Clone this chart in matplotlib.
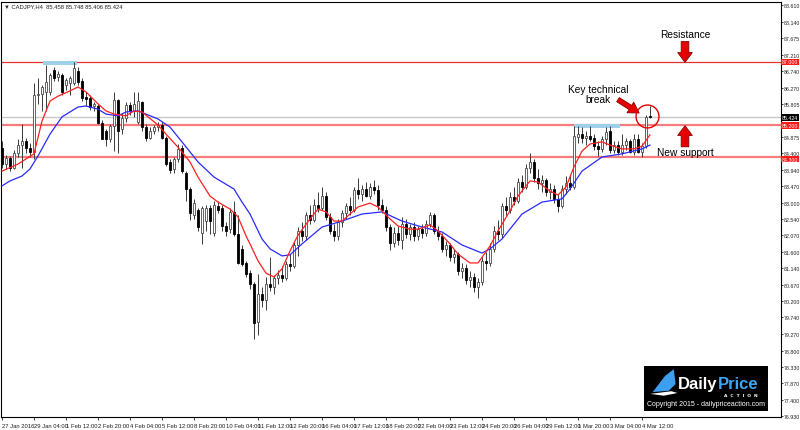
import matplotlib
matplotlib.use('Agg')
import matplotlib.pyplot as plt
import matplotlib.transforms as mtransforms
import numpy as np
from matplotlib.patches import Rectangle, Polygon

# CADJPY H4 candles (27 Jan 2016 20:00 .. 4 Mar 2016 20:00)
opens = [84.55, 84.10, 84.28, 84.00, 84.40, 84.65, 84.75, 84.55, 84.45, 86.05,
         86.10, 86.15, 86.15, 86.77, 86.57, 86.62, 86.34, 86.40, 86.40, 86.75,
         86.45, 86.00, 85.97, 85.75, 85.75, 85.28, 85.05, 84.82, 85.19, 85.91,
         85.10, 85.40, 85.78, 85.60, 85.30, 85.85, 85.15, 84.85, 85.05, 85.15,
         85.20, 84.85, 84.15, 83.95, 84.25, 84.55, 83.85, 83.40, 82.65, 82.80,
         82.15, 82.48, 82.85, 82.15, 82.90, 82.85, 82.35, 82.25, 82.75, 82.10,
         81.70, 81.28, 81.00, 80.68, 79.60, 80.40, 80.25, 80.70, 80.60, 80.85,
         80.95, 80.85, 81.25, 81.20, 81.80, 82.20, 82.05, 82.65, 82.50, 82.95,
         82.85, 83.20, 82.60, 82.20, 82.05, 82.45, 82.70, 82.90, 82.80, 83.35,
         83.25, 83.40, 83.20, 83.45, 83.35, 82.95, 82.80, 82.30, 81.85, 82.15,
         81.95, 82.40, 82.10, 82.30, 82.05, 82.25, 82.15, 82.40, 82.65, 82.20,
         82.05, 81.70, 81.80, 81.45, 81.55, 81.05, 81.15, 80.80, 80.90, 80.60,
         80.75, 81.35, 81.30, 81.70, 82.20, 82.10, 82.90, 82.80, 83.15, 83.05,
         83.60, 83.45, 84.00, 84.15, 83.70, 83.55, 83.65, 83.30, 83.40, 83.10,
         82.90, 83.40, 83.55, 83.45, 84.88, 84.95, 84.85, 84.90, 84.85, 84.62,
         84.52, 84.80, 85.05, 84.50, 84.65, 84.45, 84.65, 84.75, 84.45, 84.80,
         84.45, 84.60, 85.458]
highs = [84.75, 84.35, 84.32, 84.50, 84.80, 85.25, 84.85, 84.70, 86.40, 86.55,
         86.35, 86.91, 86.70, 86.85, 86.75, 86.70, 86.55, 86.60, 87.00, 86.85,
         86.55, 86.15, 86.05, 85.85, 85.80, 85.35, 85.10, 85.25, 86.14, 85.95,
         85.55, 85.85, 85.85, 86.14, 86.14, 85.90, 85.25, 85.15, 85.20, 85.30,
         85.30, 84.90, 84.25, 84.30, 84.68, 84.65, 83.90, 83.45, 83.10, 82.85,
         82.90, 82.95, 82.95, 83.05, 83.05, 82.95, 82.45, 82.85, 83.05, 82.65,
         81.80, 81.35, 81.10, 80.75, 80.97, 80.60, 80.90, 81.45, 80.95, 81.10,
         81.20, 81.35, 81.55, 81.90, 82.30, 82.45, 82.75, 82.95, 83.10, 83.30,
         83.45, 83.30, 82.70, 82.40, 82.55, 82.80, 83.00, 83.15, 83.45, 83.70,
         83.50, 83.60, 83.55, 83.65, 83.50, 83.10, 82.90, 82.40, 82.30, 82.35,
         82.60, 82.55, 82.40, 82.45, 82.35, 82.40, 82.50, 82.75, 82.70, 82.35,
         82.15, 81.90, 81.85, 81.70, 81.60, 81.30, 81.25, 81.05, 81.00, 80.85,
         81.45, 81.60, 81.85, 82.35, 82.50, 83.00, 83.15, 83.30, 83.45, 83.70,
         83.80, 84.10, 84.40, 84.25, 83.95, 83.80, 83.70, 83.55, 83.50, 83.25,
         83.50, 83.75, 83.80, 85.18, 85.18, 85.15, 85.05, 85.18, 84.95, 84.75,
         84.90, 85.15, 85.18, 84.75, 84.75, 84.95, 84.85, 84.80, 84.95, 84.95,
         84.70, 85.50, 85.748]
lows = [84.00, 83.95, 83.90, 83.95, 84.30, 84.00, 84.40, 84.30, 84.25, 85.80,
        85.62, 85.60, 86.05, 86.45, 86.45, 86.05, 86.20, 86.05, 86.35, 86.35,
        85.90, 85.75, 85.65, 85.60, 85.25, 84.80, 84.62, 84.72, 84.48, 84.42,
        84.95, 85.30, 85.50, 85.45, 85.25, 85.05, 84.75, 84.80, 84.95, 85.05,
        84.80, 84.05, 83.85, 83.85, 84.15, 83.85, 83.05, 82.50, 82.55, 82.20,
        81.82, 82.20, 82.11, 82.05, 82.70, 82.20, 82.05, 82.15, 82.05, 81.25,
        81.20, 80.90, 80.54, 79.14, 79.25, 80.05, 79.95, 80.50, 80.40, 80.70,
        80.75, 80.80, 81.05, 81.15, 81.50, 81.90, 81.95, 82.40, 82.45, 82.75,
        82.80, 82.50, 82.10, 81.90, 81.95, 82.30, 82.55, 82.65, 82.75, 83.10,
        83.05, 83.15, 83.10, 83.25, 82.80, 82.70, 82.20, 81.65, 81.75, 81.80,
        81.70, 82.00, 81.95, 81.90, 81.95, 82.00, 82.05, 82.30, 82.10, 81.95,
        81.60, 81.50, 81.35, 81.30, 80.95, 80.85, 80.70, 80.60, 80.45, 80.30,
        80.65, 81.10, 81.20, 81.60, 81.95, 82.00, 82.65, 82.70, 82.95, 83.00,
        83.30, 83.40, 83.85, 83.60, 83.40, 83.30, 83.20, 83.10, 83.00, 82.75,
        82.85, 83.25, 83.35, 83.40, 84.70, 84.70, 84.65, 84.75, 84.50, 84.33,
        84.45, 84.65, 84.40, 84.40, 84.35, 84.35, 84.50, 84.40, 84.35, 84.40,
        84.30, 84.55, 85.406]
closes = [84.10, 84.28, 84.00, 84.40, 84.65, 84.75, 84.55, 84.45, 86.05, 86.10,
          86.28, 86.42, 86.62, 86.54, 86.66, 86.14, 86.48, 86.55, 86.82, 86.42,
          85.97, 85.95, 85.71, 85.80, 85.28, 84.82, 84.82, 85.19, 85.91, 85.05,
          85.40, 85.78, 85.60, 85.80, 85.90, 85.15, 84.85, 85.05, 85.15, 85.22,
          84.85, 84.11, 83.92, 84.25, 84.54, 83.91, 83.40, 82.70, 83.00, 82.30,
          82.85, 82.85, 82.48, 82.95, 82.80, 82.34, 82.20, 82.75, 82.10, 81.30,
          81.25, 80.97, 80.68, 79.57, 80.40, 80.25, 80.70, 80.60, 80.85, 80.95,
          80.85, 81.25, 81.20, 81.80, 82.20, 82.05, 82.65, 82.50, 82.95, 82.85,
          83.20, 82.60, 82.20, 82.05, 82.45, 82.70, 82.90, 82.80, 83.35, 83.25,
          83.40, 83.20, 83.45, 83.35, 82.95, 82.80, 82.30, 81.85, 82.15, 81.95,
          82.40, 82.10, 82.30, 82.05, 82.25, 82.15, 82.40, 82.65, 82.20, 82.05,
          81.70, 81.80, 81.45, 81.55, 81.05, 81.15, 80.80, 80.90, 80.60, 80.75,
          81.35, 81.30, 81.70, 82.20, 82.10, 82.90, 82.80, 83.15, 83.05, 83.60,
          83.45, 84.00, 84.15, 83.70, 83.55, 83.65, 83.30, 83.40, 83.10, 82.90,
          83.40, 83.55, 83.45, 84.90, 84.95, 84.85, 84.90, 84.82, 84.62, 84.52,
          84.80, 85.00, 84.50, 84.65, 84.45, 84.65, 84.75, 84.45, 84.80, 84.45,
          84.60, 85.45, 85.424]
opens[143] = 83.45  # big breakout candle opens at previous close

# moving averages sampled along the chart (bar index, price)
fast_ma_idx = [0, 4, 8, 10, 12, 14, 17, 19, 21, 24, 26, 28, 31, 33, 35, 39, 41, 44,
               47, 49, 52, 54, 57, 59, 61, 62, 64, 66, 68, 70, 72, 74, 77, 79, 81,
               83, 85, 87, 89, 92, 94, 97, 99, 102, 104, 107, 109, 112, 114, 117,
               119, 122, 124, 127, 129, 132, 134, 137, 139, 141, 143, 145, 147,
               150, 152, 155, 158, 160, 162]
fast_ma = [83.90, 84.10, 84.39, 85.32, 85.89, 86.03, 86.18, 86.29, 86.15, 85.81,
           85.61, 85.52, 85.47, 85.61, 85.58, 85.21, 84.95, 84.58, 84.16, 83.73,
           83.19, 83.02, 82.82, 82.60, 82.06, 81.83, 81.35, 81.00, 80.89, 81.12,
           81.63, 82.08, 82.54, 82.82, 82.74, 82.48, 82.48, 82.68, 82.88, 82.99,
           82.88, 82.54, 82.34, 82.25, 82.25, 82.37, 82.20, 81.83, 81.54, 81.29,
           81.29, 81.77, 82.20, 82.77, 83.19, 83.62, 83.59, 83.33, 83.22, 83.45,
           84.02, 84.47, 84.67, 84.73, 84.64, 84.53, 84.53, 84.61, 84.93]
slow_ma_idx = [0, 2, 5, 7, 9, 12, 15, 19, 21, 24, 26, 29, 31, 34, 36, 39, 42, 45,
               49, 53, 58, 60, 62, 65, 67, 70, 72, 75, 80, 85, 90, 95, 100, 105,
               110, 115, 120, 122, 125, 130, 135, 140, 142, 145, 150, 155, 160, 162]
slow_ma = [83.48, 83.62, 83.76, 83.96, 84.33, 84.95, 85.44, 85.72, 85.75, 85.66,
           85.52, 85.47, 85.58, 85.61, 85.52, 85.38, 85.15, 84.73, 84.16, 83.73,
           83.39, 83.02, 82.68, 81.97, 81.69, 81.49, 81.52, 81.83, 82.31, 82.48,
           82.68, 82.74, 82.48, 82.31, 82.17, 81.80, 81.57, 81.69, 81.97, 82.68,
           83.02, 83.11, 83.39, 83.90, 84.30, 84.39, 84.53, 84.64]

levels = [87.000, 85.200, 84.300]
last_price = 85.424
price_ticks = [88.610, 88.140, 87.675, 87.210, 86.740, 86.270, 85.805, 84.875,
               84.400, 83.940, 83.470, 83.000, 82.540, 82.070, 81.600, 81.140,
               80.670, 80.200, 79.740, 79.270, 78.800, 78.330, 77.870, 77.400,
               76.930]
date_labels = ['27 Jan 2016', '29 Jan 04:00', '1 Feb 12:00', '2 Feb 20:00',
               '4 Feb 04:00', '5 Feb 12:00', '8 Feb 20:00', '10 Feb 04:00',
               '11 Feb 12:00', '12 Feb 20:00', '16 Feb 04:00', '17 Feb 12:00',
               '18 Feb 20:00', '22 Feb 04:00', '23 Feb 12:00', '24 Feb 20:00',
               '26 Feb 04:00', '29 Feb 12:00', '1 Mar 20:00', '3 Mar 04:00',
               '4 Mar 12:00']

small = ['Liberation Sans Narrow', 'Liberation Sans', 'DejaVu Sans']

W, H = 800, 431
fig = plt.figure(figsize=(W / 100, H / 100), dpi=100)
ax = fig.add_axes([1 / W, 13 / H, 780 / W, 415 / H])

o = np.array(opens)
h = np.array(highs)
l = np.array(lows)
c = np.array(closes)
idx = np.arange(len(c))
up = c >= o

# horizontal levels
ax.axhline(last_price, color='#c8c8c8', lw=1.0, zorder=1)
ax.axhline(levels[0], color='#e83030', lw=0.9, zorder=1)
for lv in levels[1:]:
    ax.axhline(lv, color='#f47c7c', lw=1.6, zorder=1)

# highlighted tops
ax.add_patch(Rectangle((10.3, 86.92), 8.5, 0.12, fc='#9fd0ea', ec='none', zorder=1.5))
ax.add_patch(Rectangle((143.0, 85.13), 11.5, 0.11, fc='#9fd0ea', ec='none', zorder=1.5))

# candles
ax.vlines(idx, l, h, color='#3a3a3a', lw=0.7, zorder=2)
body_lo = np.minimum(o, c)
body_h = np.maximum(np.abs(c - o), 0.02)
ax.bar(idx[up], body_h[up], 0.62, bottom=body_lo[up], color='white',
       edgecolor='#4a4a4a', lw=0.6, zorder=3)
ax.bar(idx[~up], body_h[~up], 0.62, bottom=body_lo[~up], color='black',
       edgecolor='black', lw=0.6, zorder=3)

# moving averages
ax.plot(slow_ma_idx, slow_ma, color='#2a2aff', lw=0.9, zorder=4)
ax.plot(fast_ma_idx, fast_ma, color='#ff2020', lw=0.9, zorder=4)

ax.set_xlim(-0.25, 194.75)
ax.set_ylim(76.912, 88.705)

# axes styling
for sp in ax.spines.values():
    sp.set_color('black')
    sp.set_linewidth(0.8)
ax.yaxis.tick_right()
ax.set_yticks(price_ticks)
ax.set_yticklabels(['%.3f' % v for v in price_ticks], family=small)
ax.tick_params(axis='y', labelsize=3.8, length=1.5, pad=0.8, width=0.6, colors='#202020')
ax.set_xticks(np.arange(0, 161, 8))
ax.set_xticklabels(date_labels, ha='left', family=small)
ax.tick_params(axis='x', labelsize=4.2, length=2, pad=2, width=0.6, colors='#202020')

# price markers on the axis
ytr = ax.get_yaxis_transform()
for lv in levels:
    tr = ytr
    if lv == levels[2]:
        # keep the 84.400 scale label readable just above the marker
        tr = ytr + mtransforms.ScaledTranslation(0, -1.5 / 72, fig.dpi_scale_trans)
    ax.text(1.0015, lv, '%.3f' % lv, transform=tr, fontsize=3.8, color='white',
            va='center', ha='left', family=small,
            bbox=dict(boxstyle='square,pad=0.15', fc='#ff1a1a', ec='none'))
ax.text(1.0015, last_price, '%.3f' % last_price, transform=ytr, fontsize=3.8,
        color='white', va='center', ha='left', family=small,
        bbox=dict(boxstyle='square,pad=0.2', fc='black', ec='none'))

fig.text(4 / W, 1 - 7 / H, '\u25bc CADJPY,H4  85.458 85.748 85.406 85.424',
         fontsize=4.2, va='center', ha='left', color='#202020', family=small)

# annotations
fnt = dict(family='Liberation Sans', fontsize=7.3, color='black')
ax.text(170.75, 87.80, 'Resistance', ha='center', va='center', **fnt)
ax.text(170.75, 84.44, 'New support', ha='center', va='center', **fnt)
ax.text(149.0, 86.09, 'Key technical\nbreak', ha='center', va='center',
        linespacing=1.05, **fnt)

big_arrow = dict(arrowstyle='simple,head_length=0.7,head_width=1.05,tail_width=0.55',
                 fc='#e60000', ec='#8a0000', lw=0.6, mutation_scale=10,
                 shrinkA=0, shrinkB=0)
ax.annotate('', xy=(170.75, 86.99), xytext=(170.75, 87.58), arrowprops=big_arrow)
ax.annotate('', xy=(170.75, 85.19), xytext=(170.75, 84.59), arrowprops=big_arrow)
diag_arrow = dict(arrowstyle='simple,head_length=0.75,head_width=0.9,tail_width=0.35',
                  fc='#e60000', ec='#8a0000', lw=0.6, mutation_scale=10,
                  shrinkA=0, shrinkB=0)
ax.annotate('', xy=(159.3, 85.55), xytext=(154.0, 85.93), arrowprops=diag_arrow)
ax.plot([161.2], [85.46], marker='o', ms=16.5, mfc='none', mec='#e00000', mew=1.0,
        zorder=5)

# logo block
lax = fig.add_axes([644 / W, (H - 412) / H, 124 / W, 45 / H])
lax.set_xlim(0, 1)
lax.set_ylim(0, 1)
lax.set_facecolor('black')
for sp in lax.spines.values():
    sp.set_visible(False)
lax.set_xticks([])
lax.set_yticks([])
lax.add_patch(Polygon([[0.07, 0.42], [0.17, 0.78], [0.24, 0.93], [0.255, 0.6],
                       [0.2, 0.45]], closed=True, fc='#3d9ef0', ec='none'))
lax.add_patch(Polygon([[0.05, 0.38], [0.22, 0.44], [0.27, 0.4], [0.16, 0.34]],
                      closed=True, fc='white', ec='none'))
lax.text(0.595, 0.6, 'Daily', color='white', fontsize=12, fontweight='bold',
         family='Liberation Sans', ha='right', va='center')
lax.text(0.595, 0.6, 'Price', color='#3da5f4', fontsize=12, fontweight='bold',
         family='Liberation Sans', ha='left', va='center')
lax.text(0.78, 0.36, 'A  C  T  I  O  N', color='white', fontsize=3.2,
         fontweight='bold', ha='center', va='center')
lax.text(0.5, 0.17, 'Copyright 2015 - dailypriceaction.com', color='white',
         fontsize=5, family='Liberation Sans', ha='center', va='center')

fig.savefig('out.png', dpi=100, facecolor='white')
